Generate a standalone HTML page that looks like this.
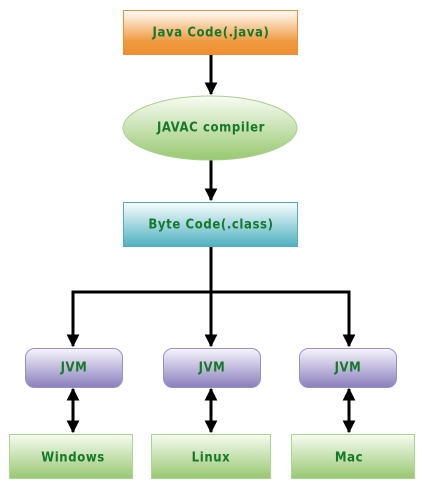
<!DOCTYPE html>
<html><head><style>
body{margin:0;background:#fff;width:425px;height:488px;overflow:hidden}
svg text{font-family:"DejaVu Sans Condensed","DejaVu Sans","Liberation Sans",sans-serif;font-weight:bold;font-size:13px;letter-spacing:0.6px;fill:#15782a;text-anchor:middle;dominant-baseline:middle}
</style></head><body>
<svg width="425" height="488" xmlns="http://www.w3.org/2000/svg">
<defs>
<linearGradient id="o" x1="0" y1="0" x2="0" y2="1"><stop offset="0" stop-color="#fffdfb"/><stop offset="0.7" stop-color="#f09a40"/><stop offset="1" stop-color="#ef8f30"/></linearGradient>
<linearGradient id="g" x1="0" y1="0" x2="0" y2="1"><stop offset="0" stop-color="#f8fcf4"/><stop offset="1" stop-color="#98c870"/></linearGradient>
<linearGradient id="b" x1="0" y1="0" x2="0" y2="1"><stop offset="0" stop-color="#fafeff"/><stop offset="1" stop-color="#4eb0c0"/></linearGradient>
<linearGradient id="p" x1="0" y1="0" x2="0" y2="1"><stop offset="0" stop-color="#f6f4fc"/><stop offset="1" stop-color="#8a7fbd"/></linearGradient>
<linearGradient id="l" x1="0" y1="0" x2="0" y2="1"><stop offset="0" stop-color="#f6fbf0"/><stop offset="1" stop-color="#98c872"/></linearGradient>
<marker id="a" viewBox="0 0 10 10" refX="9" refY="5" markerWidth="4.3" markerHeight="4.3" orient="auto-start-reverse"><path d="M0,0 L10,5 L0,10 z" fill="#000"/></marker>
</defs>
<g stroke="#000" stroke-width="3" fill="none">
<line x1="211" y1="54" x2="211" y2="94" marker-end="url(#a)"/>
<line x1="211" y1="160" x2="211" y2="200" marker-end="url(#a)"/>
<line x1="211" y1="246" x2="211" y2="346" marker-end="url(#a)"/>
<polyline points="73,346 73,292 349,292 349,346" marker-start="url(#a)" marker-end="url(#a)"/>
<line x1="73" y1="389" x2="73" y2="432" marker-start="url(#a)" marker-end="url(#a)"/>
<line x1="211" y1="389" x2="211" y2="432" marker-start="url(#a)" marker-end="url(#a)"/>
<line x1="349" y1="389" x2="349" y2="432" marker-start="url(#a)" marker-end="url(#a)"/>
</g>
<rect x="123.5" y="10.5" width="174" height="44" fill="url(#o)" stroke="#ef9030"/>
<text x="211" y="33">Java Code(.java)</text>
<ellipse cx="210" cy="128" rx="87" ry="32" fill="url(#g)" stroke="#a8d08a"/>
<text x="211" y="128">JAVAC compiler</text>
<rect x="123.5" y="202.5" width="174" height="44" fill="url(#b)" stroke="#4ab0c0"/>
<text x="211" y="225">Byte Code(.class)</text>
<rect x="25.5" y="348.5" width="97" height="39" rx="9" fill="url(#p)" stroke="#9a90c8"/>
<rect x="163.5" y="348.5" width="97" height="39" rx="9" fill="url(#p)" stroke="#9a90c8"/>
<rect x="299.5" y="348.5" width="97" height="39" rx="9" fill="url(#p)" stroke="#9a90c8"/>
<text x="74" y="368">JVM</text><text x="212" y="368">JVM</text><text x="348" y="368">JVM</text>
<rect x="9.5" y="434.5" width="123" height="44" fill="url(#l)" stroke="#a8d890"/>
<rect x="151.5" y="434.5" width="119" height="44" fill="url(#l)" stroke="#a8d890"/>
<rect x="291.5" y="434.5" width="123" height="44" fill="url(#l)" stroke="#a8d890"/>
<text x="73" y="458">Windows</text><text x="211" y="458">Linux</text><text x="349" y="458">Mac</text>
</svg>
</body></html>
